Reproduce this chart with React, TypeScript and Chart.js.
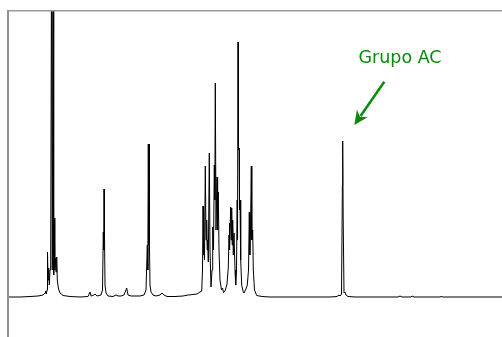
import React, { useEffect, useRef } from "react";
import { Chart, registerables } from "chart.js";

Chart.register(...registerables);

// Spectrum trace vertices (position units, intensity units above baseline)
const shift = [
  0, 12, 22, 30, 35, 37, 37.7, 38.3, 39, 39.5, 40, 40.7, 41.3, 42, 42.7, 43.5, 44.3, 45, 45.7, 46.3, 46.8, 47.5, 48, 48.7, 49.3, 50.5, 52, 55, 62,
  72, 80, 82, 83, 85, 87, 89, 93, 94.5, 95.3, 95.7, 96, 96.5, 97, 98, 100, 105, 108, 110, 113, 116, 118.7, 120, 123,
  132, 136, 138, 139.3, 139.8, 140.3, 140.8, 141.3, 141.5, 142, 143, 145, 148, 152, 154, 156, 159, 167, 175, 180, 185, 189,
  192, 193.7, 194.5, 195, 195.5, 195.8, 196.5, 197.3, 198, 198.7, 199.2, 199.7, 200.3, 201.3, 202, 203, 204, 204.7, 205.5, 206.3, 206.8, 207.3,
  208, 209, 209.6, 210.3, 211, 212, 213.5, 214.5, 215.5, 217, 219, 220.3, 221, 221.3, 221.8, 222.7, 223.2, 223.7, 224.2, 224.7, 225.3, 226,
  227, 227.7, 228.5, 229.2, 229.5, 230, 230.5, 231, 231.5, 232, 232.7, 233.7, 235, 236, 238, 239.3, 240.5, 241.3, 241.8, 242.5, 243.3, 243.8,
  244.7, 245.3, 246.5, 248.7, 254, 262, 292, 322, 329, 331, 332, 333.5, 334.4, 334.7, 335.2, 336, 337, 338, 340, 347,
  390, 392, 394, 403, 404, 406, 432, 433, 435, 494,
];
const intensity = [
  0, 0, 0.5, 1, 2, 4, 6, 3, 7, 45, 17, 29, 12, 27, 35, 330, 27, 330, 22, 79, 27, 39, 25, 40, 17, 8, 4, 1.5, 0.5,
  0, 0.5, 5, 1, 1.5, 3, 1, 2, 7, 65, 47, 108, 62, 12, 4, 1, 0.5, 2, 1, 1, 2, 9, 2, 1,
  1, 2, 7, 52, 27, 153, 52, 153, 47, 12, 5, 2, 1, 2, 4, 2, 0.5, 0.5, 1, 2, 2.5, 3,
  5, 6, 27, 91, 42, 56, 37, 131, 57, 77, 47, 57, 35, 144, 47, 10, 27, 70, 47, 132, 97, 214,
  67, 120, 67, 105, 47, 17, 7, 9, 4.5, 6, 13, 30, 62, 74, 47, 90, 57, 89, 52, 77, 42, 64,
  27, 12, 27, 97, 57, 255, 147, 149, 87, 97, 37, 12, 6, 4, 8, 12, 27, 85, 42, 67, 131, 57,
  67, 27, 7, 1.5, 0.5, 0, 0, 0, 0.5, 2, 1, 3, 112, 156, 77, 4, 5, 2, 0.5, 0,
  0, 1, 0, 0, 1, 0, 0, 0.5, 0, 0,
];

const annotationText = "Grupo AC";
const annotationLabelAt = [392, 234];
const arrowFrom = [376.3, 215.3];
const arrowTo = [346.3, 172];

const framePlugin = {
  id: "frameAndNote",
  afterDatasetsDraw(chart: any) {
    const { ctx, chartArea, scales } = chart;
    const xs = scales.x;
    const ys = scales.y;
    ctx.save();
    // frame
    ctx.strokeStyle = "#8f8f8f";
    ctx.lineWidth = 2;
    ctx.beginPath();
    ctx.moveTo(chartArea.left, chartArea.top);
    ctx.lineTo(chartArea.left, chartArea.bottom);
    ctx.stroke();
    ctx.lineWidth = 1.5;
    ctx.strokeStyle = "#9a9a9a";
    ctx.beginPath();
    ctx.moveTo(chartArea.left, chartArea.top + 0.75);
    ctx.lineTo(chartArea.right, chartArea.top + 0.75);
    ctx.stroke();

    // annotation text
    const green = "#0a8a0a";
    ctx.fillStyle = green;
    ctx.font = '17.5px "DejaVu Sans", Verdana, sans-serif';
    ctx.textAlign = "center";
    ctx.textBaseline = "alphabetic";
    ctx.fillText(
      annotationText,
      xs.getPixelForValue(annotationLabelAt[0]),
      ys.getPixelForValue(annotationLabelAt[1])
    );

    // arrow
    const x1 = xs.getPixelForValue(arrowFrom[0]);
    const y1 = ys.getPixelForValue(arrowFrom[1]);
    const x2 = xs.getPixelForValue(arrowTo[0]);
    const y2 = ys.getPixelForValue(arrowTo[1]);
    const ang = Math.atan2(y2 - y1, x2 - x1);
    const headLen = 14;
    const headW = 6.5;
    const bx = x2 - headLen * Math.cos(ang);
    const by = y2 - headLen * Math.sin(ang);
    ctx.strokeStyle = green;
    ctx.lineWidth = 2.5;
    ctx.beginPath();
    ctx.moveTo(x1, y1);
    ctx.lineTo(bx + 3 * Math.cos(ang), by + 3 * Math.sin(ang));
    ctx.stroke();
    ctx.beginPath();
    ctx.moveTo(x2, y2);
    ctx.lineTo(bx + headW * Math.sin(ang), by - headW * Math.cos(ang));
    ctx.lineTo(bx + 4 * Math.cos(ang), by + 4 * Math.sin(ang));
    ctx.lineTo(bx - headW * Math.sin(ang), by + headW * Math.cos(ang));
    ctx.closePath();
    ctx.fill();
    ctx.restore();
  },
};

export default function App() {
  const ref = useRef<HTMLCanvasElement | null>(null);
  useEffect(() => {
    if (!ref.current) return;
    const points = shift.map((x, i) => ({ x, y: intensity[i] }));
    const chart = new Chart(ref.current, {
      type: "line",
      data: {
        datasets: [
          {
            data: points,
            borderColor: "#000000",
            borderWidth: 1,
            pointRadius: 0,
            tension: 0,
            fill: false,
          },
        ],
      },
      options: {
        responsive: false,
        animation: false,
        events: [],
        layout: { padding: { left: 8, top: 10, right: 0, bottom: 0 } },
        plugins: { legend: { display: false }, tooltip: { enabled: false } },
        scales: {
          x: { type: "linear", min: 0, max: 494, display: false },
          y: { type: "linear", min: -40, max: 287, display: false },
        },
      },
      plugins: [framePlugin],
    });
    return () => chart.destroy();
  }, []);
  return (
    <div style={{ position: "fixed", left: 0, top: 0, width: 502, height: 337, background: "#fff" }}>
      <canvas ref={ref} width={502} height={337} style={{ display: "block" }} />
    </div>
  );
}
